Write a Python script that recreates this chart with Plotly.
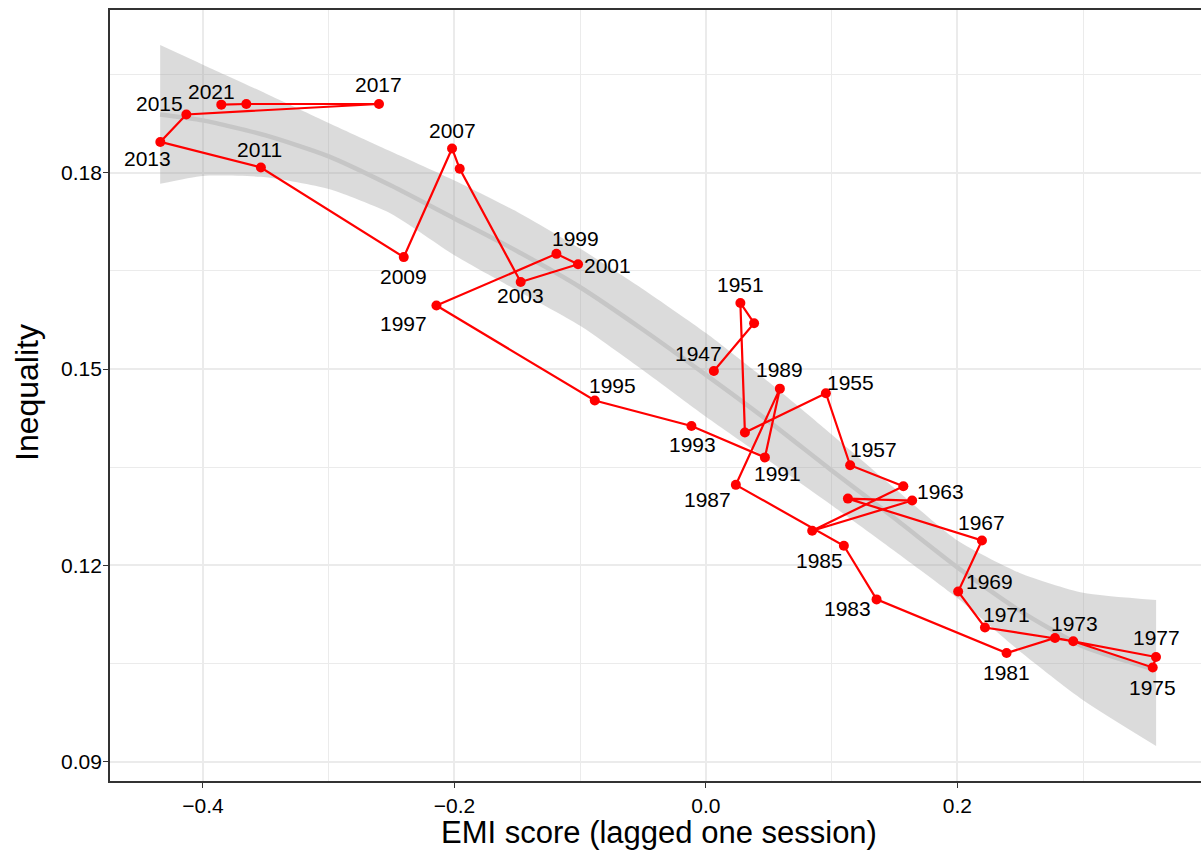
import plotly.graph_objects as go

# ---- data ----
years = [1947, 1949, 1951, 1953, 1955, 1957, 1959, 1961, 1963, 1965,
         1967, 1969, 1971, 1973, 1975, 1977, 1979, 1981, 1983, 1985,
         1987, 1989, 1991, 1993, 1995, 1997, 1999, 2001, 2003, 2005,
         2007, 2009, 2011, 2013, 2015, 2017, 2019, 2021]
emi = [0.0063, 0.0383, 0.0274, 0.0310, 0.0954, 0.1147, 0.1570, 0.0845, 0.1640, 0.1129,
       0.2195, 0.2006, 0.2219, 0.2921, 0.3553, 0.3579, 0.2776, 0.2391, 0.1357, 0.1097,
       0.0238, 0.0588, 0.0469, -0.0115, -0.0884, -0.2143, -0.1189, -0.1017, -0.1473, -0.1958,
       -0.2019, -0.2403, -0.3539, -0.4339, -0.4132, -0.2600, -0.3655, -0.3854]
inequality = [0.1497, 0.1570, 0.1601, 0.1403, 0.1463, 0.1353, 0.1321, 0.1253, 0.1299, 0.1302,
              0.1238, 0.1160, 0.1105, 0.1084, 0.1044, 0.1060, 0.1089, 0.1066, 0.1148, 0.1230,
              0.1323, 0.1470, 0.1365, 0.1413, 0.1452, 0.1597, 0.1676, 0.1660, 0.1633, 0.1806,
              0.1837, 0.1671, 0.1808, 0.1847, 0.1889, 0.1905, 0.1905, 0.1904]

# smoother (loess)
smooth_x = [-0.434, -0.4, -0.35, -0.3, -0.25, -0.2, -0.15, -0.1, -0.05, 0.0,
            0.05, 0.1, 0.15, 0.2, 0.25, 0.3, 0.358]
smooth_fit = [0.1889, 0.1880, 0.1857, 0.1825, 0.1780, 0.1730, 0.1680, 0.1625, 0.1560, 0.1491,
              0.1420, 0.1345, 0.1272, 0.1197, 0.1130, 0.1076, 0.1040]
smooth_hi = [0.1995, 0.1965, 0.1921, 0.1876, 0.1832, 0.1788, 0.1740, 0.1684, 0.1622, 0.1555,
             0.1480, 0.1400, 0.1318, 0.1238, 0.1188, 0.1158, 0.1147]
smooth_lo = [0.1783, 0.1795, 0.1793, 0.1775, 0.1737, 0.1674, 0.1620, 0.1566, 0.1498, 0.1427,
             0.1360, 0.1292, 0.1222, 0.1150, 0.1068, 0.0994, 0.0924]

x_ticks = [-0.4, -0.2, 0.0, 0.2]
y_ticks = [0.09, 0.12, 0.15, 0.18]

# label placement (pixel offsets of label centre from its point: dx right, dy down)
label_offsets = {
    1947: (-15, -17), 1951: (0, -18), 1955: (25, -11), 1957: (23, -16), 1963: (28, -9),
    1967: (0, -18), 1969: (31, -10), 1971: (22, -13), 1973: (1, -18), 1975: (0, 20),
    1977: (1, -19), 1981: (0, 19), 1983: (-29, 9), 1985: (-24, 15), 1987: (-28, 15),
    1989: (0, -19), 1991: (13, 16), 1993: (1, 19), 1995: (18, -15), 1997: (-33, 18),
    1999: (19, -15), 2001: (29, 1), 2003: (0, 14), 2007: (0, -18), 2009: (0, 19),
    2011: (-1, -18), 2013: (-13, 17), 2015: (-27, -11), 2017: (0, -19), 2021: (-10, -13),
}

FONT = "Liberation Sans, Arial, Helvetica, sans-serif"

fig = go.Figure()

# confidence band
fig.add_trace(go.Scatter(x=smooth_x, y=smooth_lo, mode="lines",
                         line=dict(width=0, shape="spline", smoothing=0.6),
                         hoverinfo="skip", showlegend=False))
fig.add_trace(go.Scatter(x=smooth_x, y=smooth_hi, mode="lines",
                         line=dict(width=0, shape="spline", smoothing=0.6),
                         fill="tonexty", fillcolor="rgba(153,153,153,0.35)",
                         hoverinfo="skip", showlegend=False))
# smooth line
fig.add_trace(go.Scatter(x=smooth_x, y=smooth_fit, mode="lines",
                         line=dict(color="#c6c6c6", width=4.5, shape="spline", smoothing=0.6),
                         hoverinfo="skip", showlegend=False))
# path + points
fig.add_trace(go.Scatter(x=emi, y=inequality, mode="lines+markers",
                         line=dict(color="#ff0000", width=2.2),
                         marker=dict(color="#ff0000", size=10),
                         text=[str(y) for y in years], hoverinfo="text",
                         showlegend=False))

annotations = []
for yr, xv, yv in zip(years, emi, inequality):
    if yr in label_offsets:
        dx, dy = label_offsets[yr]
        annotations.append(dict(x=xv, y=yv, xref="x", yref="y", text=str(yr),
                                showarrow=False, xanchor="center", yanchor="middle",
                                xshift=dx, yshift=-dy,
                                font=dict(family=FONT, size=21, color="#000000")))

# axis titles
annotations.append(dict(x=0.503, y=-0.0674, xref="paper", yref="paper",
                        text="EMI score (lagged one session)", showarrow=False,
                        xanchor="center", yanchor="middle",
                        font=dict(family=FONT, size=31, color="#000000")))
annotations.append(dict(x=-0.0761, y=0.5045, xref="paper", yref="paper",
                        text="Inequality", showarrow=False, textangle=-90,
                        xanchor="center", yanchor="middle",
                        font=dict(family=FONT, size=32, color="#000000")))

fig.update_layout(
    width=1201, height=857,
    margin=dict(l=110, r=0, t=10, b=76),
    paper_bgcolor="white", plot_bgcolor="white",
    font=dict(family=FONT, size=21, color="#4d4d4d"),
    showlegend=False,
    annotations=annotations,
)

fig.update_xaxes(
    range=[-0.4739, 0.3937],
    tickvals=x_ticks, tickformat=".1f",
    ticks="outside", ticklen=5, tickwidth=1.2, tickcolor="#333333",
    tickfont=dict(family=FONT, size=21, color="#000000"),
    showgrid=True, gridcolor="#ebebeb", gridwidth=1.5,
    minor=dict(dtick=0.1, tick0=0, showgrid=True, gridcolor="#ebebeb", gridwidth=0.8, ticks=""),
    showline=True, linecolor="#333333", linewidth=1.8, mirror=True,
    zeroline=False,
)
fig.update_yaxes(
    range=[0.08705, 0.20486],
    tickvals=y_ticks, tickformat=".2f",
    ticks="outside", ticklen=5, tickwidth=1.2, tickcolor="#333333",
    tickfont=dict(family=FONT, size=21, color="#000000"),
    ticklabelstandoff=-3,
    showgrid=True, gridcolor="#ebebeb", gridwidth=1.5,
    minor=dict(dtick=0.015, tick0=0, showgrid=True, gridcolor="#ebebeb", gridwidth=0.8, ticks=""),
    showline=True, linecolor="#333333", linewidth=1.8, mirror=False,
    zeroline=False,
)

fig.write_html("out.html", config={"displayModeBar": False},
               post_script="document.body.style.margin='0px';document.body.style.overflow='hidden';")
